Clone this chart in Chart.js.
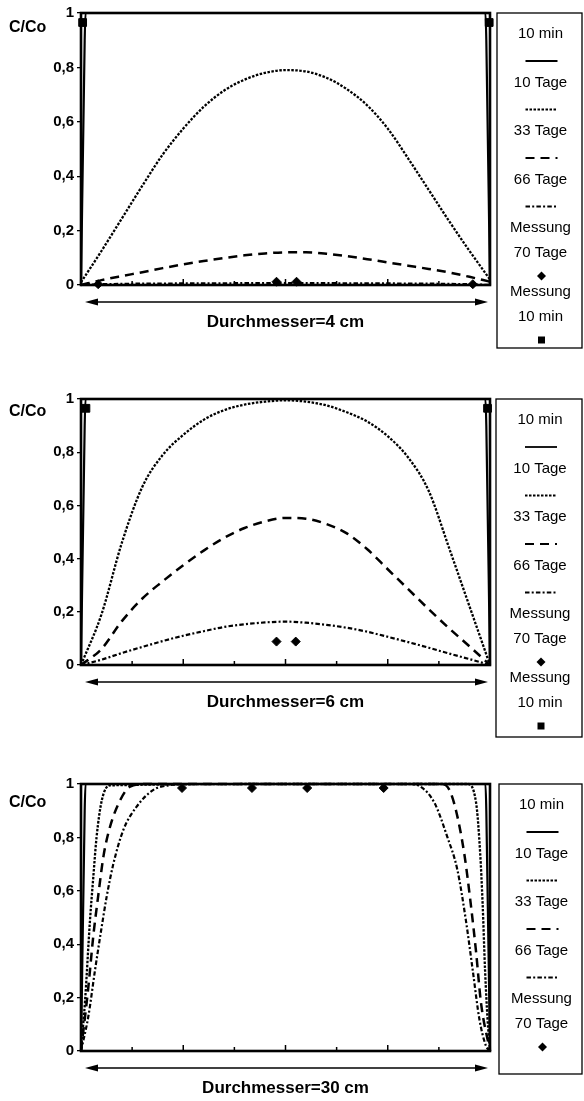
<!DOCTYPE html>
<html>
<head>
<meta charset="utf-8">
<script src="https://cdn.jsdelivr.net/npm/chart.js"></script>
<style>
  body { margin: 0; background: #fff; }
  #wrap { position: relative; width: 584px; height: 1101px; }
  canvas { position: absolute; left: 0; }
</style>
</head>
<body>
<div id="wrap">
  <canvas id="c4" width="584" height="360" style="top:0px"></canvas>
  <canvas id="c6" width="584" height="380" style="top:370px"></canvas>
  <canvas id="c30" width="584" height="341" style="top:760px"></canvas>
</div>
<script>
// position along the diameter, 0 = left edge, 1 = right edge
const pos = [0, 0.05, 0.1, 0.15, 0.2, 0.25, 0.3, 0.35, 0.4, 0.45, 0.5, 0.55, 0.6, 0.65, 0.7, 0.75, 0.8, 0.85, 0.9, 0.95, 1];
const yTicks = [0, 0.2, 0.4, 0.6, 0.8, 1];

// 10 min profile
const min10Pos = [0, 0.009, 0.011, 0.989, 0.991, 1];
const min10Val = [0, 0.9, 1, 1, 0.9, 0];

// Durchmesser = 4 cm
const d4Tage10 = [0.01, 0.125, 0.245, 0.365, 0.48, 0.575, 0.655, 0.715, 0.755, 0.78, 0.79, 0.785, 0.762, 0.72, 0.66, 0.575, 0.465, 0.35, 0.235, 0.125, 0.02];
const d4Tage33 = [0, 0.018, 0.033, 0.047, 0.062, 0.076, 0.088, 0.099, 0.109, 0.116, 0.12, 0.12, 0.115, 0.106, 0.095, 0.083, 0.071, 0.059, 0.046, 0.03, 0.012];
const d4Tage66 = [0, 0.003, 0.004, 0.005, 0.005, 0.006, 0.006, 0.006, 0.007, 0.007, 0.007, 0.007, 0.007, 0.006, 0.006, 0.006, 0.005, 0.005, 0.004, 0.003, 0];
const d4Mess70Pos = [0.042, 0.478, 0.527, 0.958];
const d4Mess70 = [0.003, 0.012, 0.012, 0.003];
const d4Mess10Pos = [0.004, 0.998];
const d4Mess10 = [0.965, 0.965];

// Durchmesser = 6 cm
const d6Tage10 = [0, 0.19, 0.46, 0.67, 0.79, 0.865, 0.922, 0.958, 0.979, 0.99, 0.995, 0.99, 0.976, 0.95, 0.915, 0.86, 0.78, 0.655, 0.44, 0.22, 0];
const d6Tage33 = [0, 0.06, 0.165, 0.25, 0.315, 0.375, 0.43, 0.478, 0.515, 0.54, 0.553, 0.55, 0.53, 0.495, 0.435, 0.36, 0.285, 0.21, 0.138, 0.07, 0];
const d6Tage66 = [0, 0.02, 0.045, 0.068, 0.09, 0.11, 0.127, 0.143, 0.153, 0.16, 0.163, 0.159, 0.151, 0.14, 0.125, 0.106, 0.086, 0.065, 0.043, 0.022, 0];
const d6Mess70Pos = [0.478, 0.525];
const d6Mess70 = [0.088, 0.088];
const d6Mess10Pos = [0.012, 0.994];
const d6Mess10 = [0.965, 0.965];

// Durchmesser = 30 cm
const d30Tage10Pos = [0, 0.01, 0.022, 0.03, 0.038, 0.051, 0.071, 0.5, 0.945, 0.966, 0.976, 0.982, 0.988, 0.994, 1];
const d30Tage10 = [0, 0.19, 0.49, 0.65, 0.8, 0.94, 0.995, 1, 1, 0.93, 0.74, 0.55, 0.3, 0.12, 0];
const d30Tage33Pos = [0, 0.018, 0.03, 0.042, 0.055, 0.071, 0.096, 0.12, 0.16, 0.5, 0.88, 0.9, 0.917, 0.937, 0.953, 0.966, 0.978, 1];
const d30Tage33 = [0, 0.24, 0.43, 0.58, 0.73, 0.84, 0.94, 0.99, 1, 1, 1, 0.98, 0.9, 0.74, 0.55, 0.37, 0.18, 0];
const d30Tage66Pos = [0, 0.018, 0.034, 0.047, 0.063, 0.079, 0.104, 0.136, 0.177, 0.218, 0.26, 0.5, 0.8, 0.83, 0.864, 0.896, 0.92, 0.941, 0.958, 0.974, 0.99, 1];
const d30Tage66 = [0, 0.13, 0.3, 0.43, 0.58, 0.7, 0.83, 0.915, 0.978, 0.996, 1, 1, 1, 0.99, 0.93, 0.8, 0.68, 0.49, 0.3, 0.12, 0.02, 0];
const d30Mess70Pos = [0.247, 0.418, 0.553, 0.74];
const d30Mess70 = [0.985, 0.985, 0.985, 0.985];

const FONT = '"Liberation Sans", Arial, Helvetica, sans-serif';

const pts = (xs, ys) => xs.map((x, i) => ({ x, y: ys[i] }));

const line = (label, xs, ys, dash, width) => ({
  label,
  data: pts(xs, ys),
  borderColor: '#000',
  borderWidth: width,
  borderDash: dash,
  pointRadius: 0,
  cubicInterpolationMode: 'monotone',
  clip: false,
});

const marks = (label, xs, ys, style, radius) => ({
  label,
  data: pts(xs, ys),
  showLine: false,
  pointStyle: style,
  pointRadius: radius,
  backgroundColor: '#000',
  borderColor: '#000',
  borderWidth: 1,
  clip: false,
});

const S_MIN10 = [];
const S_TAGE10 = [2.5, 1.5];
const S_TAGE33 = [9, 6];
const S_TAGE66 = [4.5, 2.2, 2, 2.2];

const frameAndTicks = {
  id: 'frameAndTicks',
  beforeDatasetsDraw(chart) {
    const { ctx, chartArea: a, scales: { x } } = chart;
    ctx.save();
    ctx.strokeStyle = '#000';
    ctx.lineWidth = 1.5;
    x.ticks.forEach((t, i) => {
      if (t.value <= 0 || t.value >= 1) return;
      const px = x.getPixelForValue(t.value);
      ctx.beginPath();
      ctx.moveTo(px, a.bottom);
      ctx.lineTo(px, a.bottom - (i % 2 ? 4 : 6));
      ctx.stroke();
    });
    ctx.lineWidth = 2.6;
    ctx.strokeRect(a.left, a.top, a.right - a.left, a.bottom - a.top);
    ctx.restore();
  },
};

const drawMark = (ctx, style, cx, cy, r) => {
  ctx.beginPath();
  if (style === 'rectRot') {
    ctx.moveTo(cx, cy - r);
    ctx.lineTo(cx + r, cy);
    ctx.lineTo(cx, cy + r);
    ctx.lineTo(cx - r, cy);
  } else {
    ctx.rect(cx - r, cy - r, 2 * r, 2 * r);
  }
  ctx.closePath();
  ctx.fill();
};

const extras = {
  id: 'extras',
  afterDraw(chart, args, opts) {
    const { ctx, chartArea: a } = chart;
    ctx.save();
    ctx.fillStyle = '#000';
    ctx.strokeStyle = '#000';

    // C/Co
    ctx.font = 'bold 16px ' + FONT;
    ctx.textAlign = 'left';
    ctx.textBaseline = 'middle';
    ctx.fillText('C/Co', 9, a.top + opts.cocoDy);

    // double arrow + diameter label
    const ay = a.bottom + 17;
    const l = a.left + 4, r = a.right - 2;
    ctx.lineWidth = 1.6;
    ctx.beginPath();
    ctx.moveTo(l + 8, ay);
    ctx.lineTo(r - 8, ay);
    ctx.stroke();
    ctx.beginPath();
    ctx.moveTo(l, ay); ctx.lineTo(l + 13, ay - 3.5); ctx.lineTo(l + 13, ay + 3.5);
    ctx.closePath(); ctx.fill();
    ctx.beginPath();
    ctx.moveTo(r, ay); ctx.lineTo(r - 13, ay - 3.5); ctx.lineTo(r - 13, ay + 3.5);
    ctx.closePath(); ctx.fill();
    ctx.font = 'bold 17px ' + FONT;
    ctx.textAlign = 'center';
    ctx.fillText(opts.title, (a.left + a.right) / 2, a.bottom + 37);

    // legend box
    const lx = opts.legendLeft, rx = 582, cx = (lx + rx) / 2 + 1;
    ctx.lineWidth = 1.3;
    ctx.strokeRect(lx, a.top, rx - lx, opts.legendH);
    ctx.font = '15px ' + FONT;
    let y = a.top + 21;
    chart.data.datasets.forEach((ds) => {
      const lines = ds.label.split('\n');
      lines.forEach((txt, j) => {
        ctx.fillText(txt, cx, y);
        if (j < lines.length - 1) y += 25;
      });
      const isMark = ds.showLine === false;
      y += isMark ? 23 : 27;
      if (isMark) {
        drawMark(ctx, ds.pointStyle, cx + 1, y, ds.pointStyle === 'rectRot' ? 4.5 : 3.5);
        y += 16;
      } else {
        ctx.save();
        ctx.lineWidth = 1.8;
        ctx.setLineDash(ds.borderDash);
        ctx.beginPath();
        ctx.moveTo(cx - 15, y);
        ctx.lineTo(cx + 17, y);
        ctx.stroke();
        ctx.restore();
        y += 21.5;
      }
    });
    ctx.restore();
  },
};

const makeChart = (id, datasets, top, bottom, cfg) => {
  const canvas = document.getElementById(id);
  const H = canvas.height;
  return new Chart(canvas, {
    type: 'line',
    data: { datasets },
    plugins: [frameAndTicks, extras],
    options: {
      responsive: false,
      animation: false,
      devicePixelRatio: 1,
      layout: { padding: { top, right: 94, left: 0, bottom: 0 } },
      plugins: { legend: { display: false }, tooltip: { enabled: false }, extras: cfg },
      scales: {
        x: {
          type: 'linear', min: 0, max: 1,
          ticks: { display: false, stepSize: 0.125 },
          grid: { display: false },
          border: { display: false },
          afterFit: (s) => { s.height = H - bottom; },
        },
        y: {
          min: 0, max: 1,
          afterBuildTicks: (s) => { s.ticks = yTicks.map((v) => ({ value: v })); },
          ticks: {
            color: '#000',
            padding: 3,
            font: { family: FONT, size: 15, weight: 'bold' },
            callback: (v) => String(Math.round(v * 10) / 10).replace('.', ','),
          },
          grid: { drawOnChartArea: false, drawTicks: true, tickLength: 4, color: '#000', lineWidth: 1.3 },
          border: { display: false },
          afterFit: (s) => { s.width = 81; },
        },
      },
    },
  });
};

makeChart('c4', [
  line('10 min', min10Pos, min10Val, S_MIN10, 2.2),
  line('10 Tage', pos, d4Tage10, S_TAGE10, 2.3),
  line('33 Tage', pos, d4Tage33, S_TAGE33, 2.5),
  line('66 Tage', pos, d4Tage66, S_TAGE66, 2.2),
  marks('Messung\n70 Tage', d4Mess70Pos, d4Mess70, 'rectRot', 4.5),
  marks('Messung\n10 min', d4Mess10Pos, d4Mess10, 'rect', 5.5),
], 13, 285, { title: 'Durchmesser=4 cm', legendLeft: 497, legendH: 335, cocoDy: 15 });

makeChart('c6', [
  line('10 min', min10Pos, min10Val, S_MIN10, 2.2),
  line('10 Tage', pos, d6Tage10, S_TAGE10, 2.3),
  line('33 Tage', pos, d6Tage33, S_TAGE33, 2.5),
  line('66 Tage', pos, d6Tage66, S_TAGE66, 2.2),
  marks('Messung\n70 Tage', d6Mess70Pos, d6Mess70, 'rectRot', 4.5),
  marks('Messung\n10 min', d6Mess10Pos, d6Mess10, 'rect', 5.5),
], 29, 295, { title: 'Durchmesser=6 cm', legendLeft: 496, legendH: 338, cocoDy: 13 });

makeChart('c30', [
  line('10 min', min10Pos, min10Val, S_MIN10, 2.2),
  line('10 Tage', d30Tage10Pos, d30Tage10, S_TAGE10, 2.3),
  line('33 Tage', d30Tage33Pos, d30Tage33, S_TAGE33, 2.5),
  line('66 Tage', d30Tage66Pos, d30Tage66, S_TAGE66, 2.2),
  marks('Messung\n70 Tage', d30Mess70Pos, d30Mess70, 'rectRot', 4.5),
], 24, 291, { title: 'Durchmesser=30 cm', legendLeft: 499, legendH: 290, cocoDy: 19 });
</script>
</body>
</html>
